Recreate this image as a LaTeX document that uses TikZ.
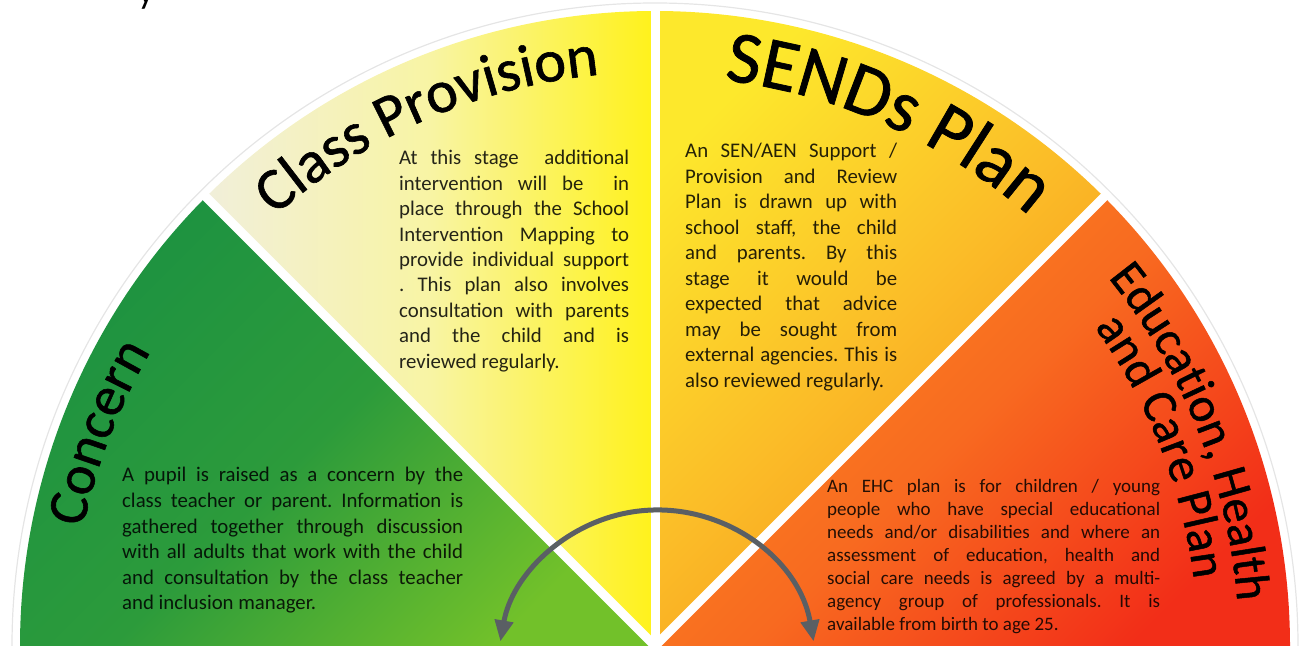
\documentclass[tikz,border=0pt]{standalone}
\usepackage{fontspec}
\setmainfont{Carlito}
\newfontfamily\tfA[FakeBold=1]{Carlito}
\usetikzlibrary{decorations.text,arrows.meta,calc}
\definecolor{gA}{HTML}{1D9241}
\definecolor{gB}{HTML}{2C9B3B}
\definecolor{gC}{HTML}{72C12A}
\definecolor{yA}{HTML}{F1EFDA}
\definecolor{yB}{HTML}{F8F4A4}
\definecolor{yC}{HTML}{FFF21A}
\definecolor{oA}{HTML}{FDE82C}
\definecolor{oB}{HTML}{FBBD28}
\definecolor{oC}{HTML}{F7901A}
\definecolor{rA}{HTML}{FB8A1F}
\definecolor{rB}{HTML}{F86A20}
\definecolor{rC}{HTML}{F22E18}
\definecolor{arrowgrey}{HTML}{5A5F64}
\tolerance=10000 \hbadness=10000 \hfuzz=3pt
\frenchspacing
\begin{document}
\begin{tikzpicture}[x=1pt,y=1pt,
  body/.style={anchor=base west, inner sep=0pt, align=justify, text=black, text opacity=0.85},
  gapline/.style={white, line width=9pt},
  ring/.style={draw=black!10, line width=1.2pt},
  arr/.style={draw=arrowgrey, line width=5pt, >={Triangle[width=18pt,length=21pt]}, <->}]
\useasboundingbox (0,0) rectangle (1304,650);
\coordinate (O) at (655,4);

% sectors
\begin{scope}
  \clip (O) -- ++(135:635pt) arc[start angle=135,end angle=180,radius=635pt] -- cycle;
  \shade[top color=gA, bottom color=gC, middle color=gB, shading angle=45] (18,4) rectangle (655,455);
\end{scope}
\begin{scope}
  \clip (O) -- ++(90:635pt) arc[start angle=90,end angle=135,radius=635pt] -- cycle;
  \shade[left color=yA, right color=yC, middle color=yB] (205,4) rectangle (655,640);
\end{scope}
\begin{scope}
  \clip (O) -- ++(45:635pt) arc[start angle=45,end angle=90,radius=635pt] -- cycle;
  \shade[top color=oA, bottom color=oC, middle color=oB, shading angle=45] (655,4) rectangle (1105,640);
\end{scope}
\begin{scope}
  \clip (O) -- ++(0:635pt) arc[start angle=0,end angle=45,radius=635pt] -- cycle;
  \shade[top color=rA, bottom color=rC, middle color=rB, shading angle=45] (655,4) rectangle (1291,455);
\end{scope}

% white gaps
\draw[gapline] (O) -- ++(45:637pt);
\draw[gapline] (O) -- ++(90:637pt);
\draw[gapline] (O) -- ++(135:637pt);
\fill[white] (0,0) rectangle (1304,4);

% outer faint ring
\draw[ring] ($(O)+(0:643pt)$) arc[start angle=0,end angle=180,radius=643pt];

% titles along arcs
\path[decorate, decoration={text along path, text align=center,
   text={|\tfA\fontsize{56}{56}\selectfont|Concern}}]
   ($(O)+(189:584pt)$) arc[start angle=189,end angle=129,radius=584pt];
\path[decorate, decoration={text along path, text align=center,
   text={|\tfA\fontsize{60}{60}\selectfont|Class Provision}}]
   ($(O)+(143.5:574pt)$) arc[start angle=143.5,end angle=83.5,radius=574pt];
\path[decorate, decoration={text along path, text align=center,
   text={|\tfA\fontsize{74}{74}\selectfont|SENDs Plan}}]
   ($(O)+(96:570pt)$) arc[start angle=96,end angle=36,radius=570pt];
\path[decorate, decoration={text along path, text align=center,
   text={|\tfA\fontsize{49}{49}\selectfont|Education, Health}}]
   ($(O)+(51.75:584pt)$) arc[start angle=51.75,end angle=-8.25,radius=584pt];
\path[decorate, decoration={text along path, text align=center,
   text={|\tfA\fontsize{49}{49}\selectfont|and Care Plan}}]
   ($(O)+(51.5:543pt)$) arc[start angle=51.5,end angle=-8.5,radius=543pt];

% body texts
\node[body, text width=230pt, font=\fontsize{20.8}{25.4}\selectfont] (classtext) at (399,485)
 {At this stage \ additional\linebreak intervention will be \ in\linebreak place through the School\linebreak Intervention Mapping to\linebreak provide individual support\linebreak . This plan also involves\linebreak consultation with parents\linebreak and the child and is\linebreak reviewed regularly.};
\node[body, text width=212pt, font=\fontsize{20.8}{25.5}\selectfont] (sendstext) at (685,492)
 {An SEN/AEN Support /\linebreak Provision and Review\linebreak Plan is drawn up with\linebreak school staff, the child\linebreak and parents. By this\linebreak stage it would be\linebreak expected that advice\linebreak may be sought from\linebreak external agencies. This is\linebreak also reviewed regularly.};
\node[body, text width=341pt, font=\fontsize{20.8}{25.6}\selectfont] (concerntext) at (122,168)
 {A pupil is raised as a concern by the\linebreak class teacher or parent. Information is\linebreak gathered together through discussion\linebreak with all adults that work with the child\linebreak and consultation by the class teacher\linebreak and inclusion manager.};
\node[body, text width=333pt, font=\fontsize{19}{23}\selectfont] (ehctext) at (827,157)
 {An EHC plan is for children / young\linebreak people who have special educational\linebreak needs and/or disabilities and where an\linebreak assessment of education, health and\linebreak social care needs is agreed by a multi-\linebreak agency group of professionals. It is\linebreak available from birth to age 25.};

% stray cropped glyph at top
\node[anchor=base, inner sep=0pt, font=\fontsize{36}{36}\selectfont] (stray) at (146,646) {y};

% cycle arrow
\coordinate (arrR) at ($(657,-19)+(10:159pt)$);
\coordinate (arrL) at ($(657,-19)+(170:159pt)$);
\draw[arr] (arrR) arc[start angle=10,end angle=170,radius=159pt];
\end{tikzpicture}
\end{document}
